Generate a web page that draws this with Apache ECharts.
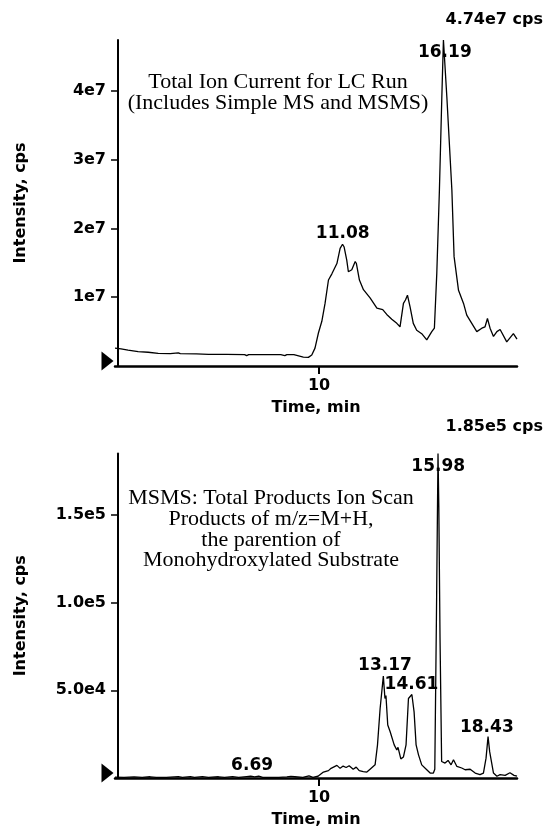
<!DOCTYPE html>
<html><head><meta charset="utf-8">
<script src="https://cdn.jsdelivr.net/npm/echarts@6/dist/echarts.min.js"></script>
<style>html,body{margin:0;padding:0;background:#fff}#c{width:549px;height:829px}</style>
</head><body><div id="c"></div>
<script>
// ---------- DATA ----------
// Top panel: Total Ion Current (intensity in units of 1e7 cps) vs time (min)
const ticTime = [-0.15,0.15,0.5,1.0,1.5,2.0,2.6,3.0,3.1,3.9,4.5,5.4,6.3,6.4,6.5,7.1,8.1,8.3,8.4,8.75,9.22,9.47,9.64,9.8,9.97,10.14,10.3,10.47,10.64,10.89,11.05,11.17,11.25,11.38,11.46,11.63,11.8,11.86,12.01,12.21,12.54,12.88,13.17,13.37,13.62,13.87,14.03,14.2,14.3,14.4,14.53,14.69,14.86,15.11,15.36,15.61,15.74,15.86,15.99,16.11,16.19,16.36,16.61,16.72,16.94,17.19,17.35,17.6,17.85,18.1,18.26,18.38,18.51,18.68,18.85,19.01,19.34,19.67,19.85];
const ticIntensity = [0.26,0.25,0.23,0.21,0.20,0.185,0.18,0.19,0.18,0.175,0.17,0.168,0.165,0.15,0.165,0.165,0.165,0.15,0.165,0.165,0.13,0.125,0.16,0.26,0.48,0.65,0.91,1.25,1.34,1.49,1.71,1.77,1.73,1.54,1.37,1.40,1.52,1.49,1.25,1.11,0.99,0.84,0.82,0.75,0.68,0.62,0.57,0.91,0.96,1.03,0.86,0.62,0.52,0.47,0.38,0.50,0.55,1.35,2.56,3.91,4.74,3.91,2.56,1.59,1.10,0.91,0.74,0.62,0.50,0.55,0.57,0.69,0.55,0.43,0.50,0.53,0.35,0.47,0.39];

// Bottom panel: MSMS total product ion scan (intensity in units of 1e4 cps)
const msmsTime = [-0.15,0.3,0.8,1.2,1.6,1.9,2.4,3.0,3.2,3.6,3.8,4.2,4.5,5.0,5.3,5.7,6.0,6.4,6.6,6.8,7.0,7.2,7.6,8.0,8.4,8.6,8.8,9.2,9.5,9.7,9.95,10.22,10.47,10.6,10.89,11.05,11.2,11.35,11.5,11.7,11.85,12.0,12.2,12.38,12.54,12.79,12.91,13.04,13.2,13.28,13.33,13.42,13.54,13.74,13.87,13.93,14.07,14.2,14.33,14.45,14.62,14.73,14.83,14.95,15.11,15.36,15.53,15.69,15.76,15.84,15.92,15.96,16.02,16.1,16.27,16.42,16.57,16.69,16.86,17.1,17.27,17.52,17.77,18.01,18.18,18.31,18.41,18.49,18.68,18.85,19.01,19.26,19.5,19.7,19.85];
const msmsIntensity = [0.05,0.03,0.06,0.03,0.07,0.03,0.03,0.08,0.03,0.08,0.03,0.08,0.03,0.07,0.03,0.08,0.03,0.08,0.1,0.06,0.1,0.03,0.03,0.03,0.06,0.09,0.07,0.03,0.12,0.03,0.1,0.34,0.42,0.55,0.72,0.55,0.68,0.6,0.7,0.5,0.62,0.42,0.36,0.34,0.5,0.75,1.89,3.96,5.81,4.53,4.7,3.02,2.64,1.89,1.6,1.75,1.09,1.2,1.89,4.53,4.76,3.77,1.89,1.32,0.75,0.47,0.28,0.28,0.5,9.0,18.5,15.5,8.0,0.94,0.85,1.0,0.75,1.04,0.66,0.57,0.47,0.5,0.28,0.19,0.28,1.13,2.36,1.5,0.28,0.1,0.19,0.15,0.3,0.15,0.1];

// Peak annotations (text, time, intensity where the text sits)
const ticPeakText = ['11.08','16.19'];
const ticPeakTime = [11.18,16.26];
const ticPeakLevel = [1.92,4.56];
const msmsPeakText = ['6.69','13.17','14.61','15.98','18.43'];
const msmsPeakTime = [6.67,13.28,14.6,15.93,18.35];
const msmsPeakLevel = [0.68,6.4,5.32,17.74,2.89];

// Axis ticks / labels
const xTicks = [10];
const xTickLabels = ['10'];
const ticYTicks = [1,2,3,4];
const ticYTickLabels = ['1e7','2e7','3e7','4e7'];
const ticYMax = 4.74;
const msmsYTicks = [5,10,15];
const msmsYTickLabels = ['5.0e4','1.0e5','1.5e5'];
const msmsYMax = 18.5;
const ticMaxLabel = '4.74e7 cps';
const msmsMaxLabel = '1.85e5 cps';
const ticNote = 'Total Ion Current for LC Run\n(Includes Simple MS and MSMS)';
const msmsNote = 'MSMS: Total Products Ion Scan\nProducts of m/z=M+H,\nthe parention of\nMonohydroxylated Substrate';

// ---------- CHART ----------
const X_MIN = -0.15, X_MAX = 19.85;
const SANS = 'DejaVu Sans';
const zip = (a, b) => a.map((v, i) => [v, b[i]]);

function makeX(gi){
  return {
    type:'value', gridIndex:gi, min:X_MIN, max:X_MAX,
    name:'Time, min', nameLocation:'middle', nameGap:34,
    nameTextStyle:{fontFamily:SANS,fontWeight:'bold',fontSize:16,color:'#000'},
    axisLine:{show:true,onZero:false,lineStyle:{color:'#000',width:2.5}},
    axisTick:{show:true,customValues:xTicks,length:8,lineStyle:{color:'#000',width:2}},
    axisLabel:{show:true,customValues:xTicks,margin:12,
      formatter:v=>{const i=xTicks.indexOf(v);return i<0?'':xTickLabels[i];},
      fontFamily:SANS,fontWeight:'bold',fontSize:16,color:'#000'},
    splitLine:{show:false}
  };
}
function makeY(gi,max,ticks,labels){
  return {
    type:'value', gridIndex:gi, min:0, max:max,
    name:'Intensity, cps', nameLocation:'middle', nameGap:86, nameRotate:90,
    nameTextStyle:{fontFamily:SANS,fontWeight:'bold',fontSize:16,color:'#000'},
    axisLine:{show:true,lineStyle:{color:'#000',width:2}},
    axisTick:{show:true,customValues:ticks,length:7,lineStyle:{color:'#000',width:1.5}},
    axisLabel:{show:true,customValues:ticks,margin:9,
      formatter:v=>{const i=ticks.indexOf(v);return i<0?'':labels[i];},
      fontFamily:SANS,fontWeight:'bold',fontSize:16,color:'#000'},
    splitLine:{show:false}
  };
}
function labelSeries(xi,times,levels,texts){
  return {
    type:'scatter', xAxisIndex:xi, yAxisIndex:xi, symbolSize:0, silent:true, clip:false, z:5,
    itemStyle:{opacity:1,color:'#000'},
    data:zip(times,levels),
    label:{show:true,position:'inside',formatter:p=>texts[p.dataIndex],opacity:1,
      fontFamily:SANS,fontWeight:'bold',fontSize:17,color:'#000',textBorderWidth:0}
  };
}
function triSeries(xi){
  return {
    type:'scatter', xAxisIndex:xi, yAxisIndex:xi, silent:true, clip:false, z:6,
    symbol:'path://M0,0 L12,10 L0,20 Z', symbolSize:[12,19], symbolOffset:[-7.5,-5],
    itemStyle:{color:'#000',opacity:1}, data:[[X_MIN,0]]
  };
}
const lineStyle = {color:'#000',width:1.3};

const chart = echarts.init(document.getElementById('c'), null, {renderer:'canvas'});
chart.setOption({
  backgroundColor:'#fff',
  animation:false,
  grid:[
    {left:115,right:32,top:40,height:326},
    {left:115,right:32,top:453.5,height:326.5}
  ],
  xAxis:[makeX(0),makeX(1)],
  yAxis:[makeY(0,ticYMax,ticYTicks,ticYTickLabels),makeY(1,msmsYMax,msmsYTicks,msmsYTickLabels)],
  series:[
    {type:'line',xAxisIndex:0,yAxisIndex:0,data:zip(ticTime,ticIntensity),symbol:'none',lineStyle:lineStyle,z:3},
    {type:'line',xAxisIndex:1,yAxisIndex:1,data:zip(msmsTime,msmsIntensity),symbol:'none',lineStyle:lineStyle,z:3},
    labelSeries(0,ticPeakTime,ticPeakLevel,ticPeakText),
    labelSeries(1,msmsPeakTime,msmsPeakLevel,msmsPeakText),
    triSeries(0), triSeries(1)
  ],
  graphic:[
    {type:'text',right:6,top:12,style:{text:ticMaxLabel,font:'bold 16px "DejaVu Sans"',fill:'#000'}},
    {type:'text',right:6,top:419,style:{text:msmsMaxLabel,font:'bold 16px "DejaVu Sans"',fill:'#000'}},
    {type:'text',x:278,y:72,style:{text:ticNote,font:'22px "Liberation Serif"',fill:'#000',textAlign:'center',lineHeight:21}},
    {type:'text',x:271,y:488,style:{text:msmsNote,font:'22px "Liberation Serif"',fill:'#000',textAlign:'center',lineHeight:20.7}}
  ]
});
</script></body></html>
